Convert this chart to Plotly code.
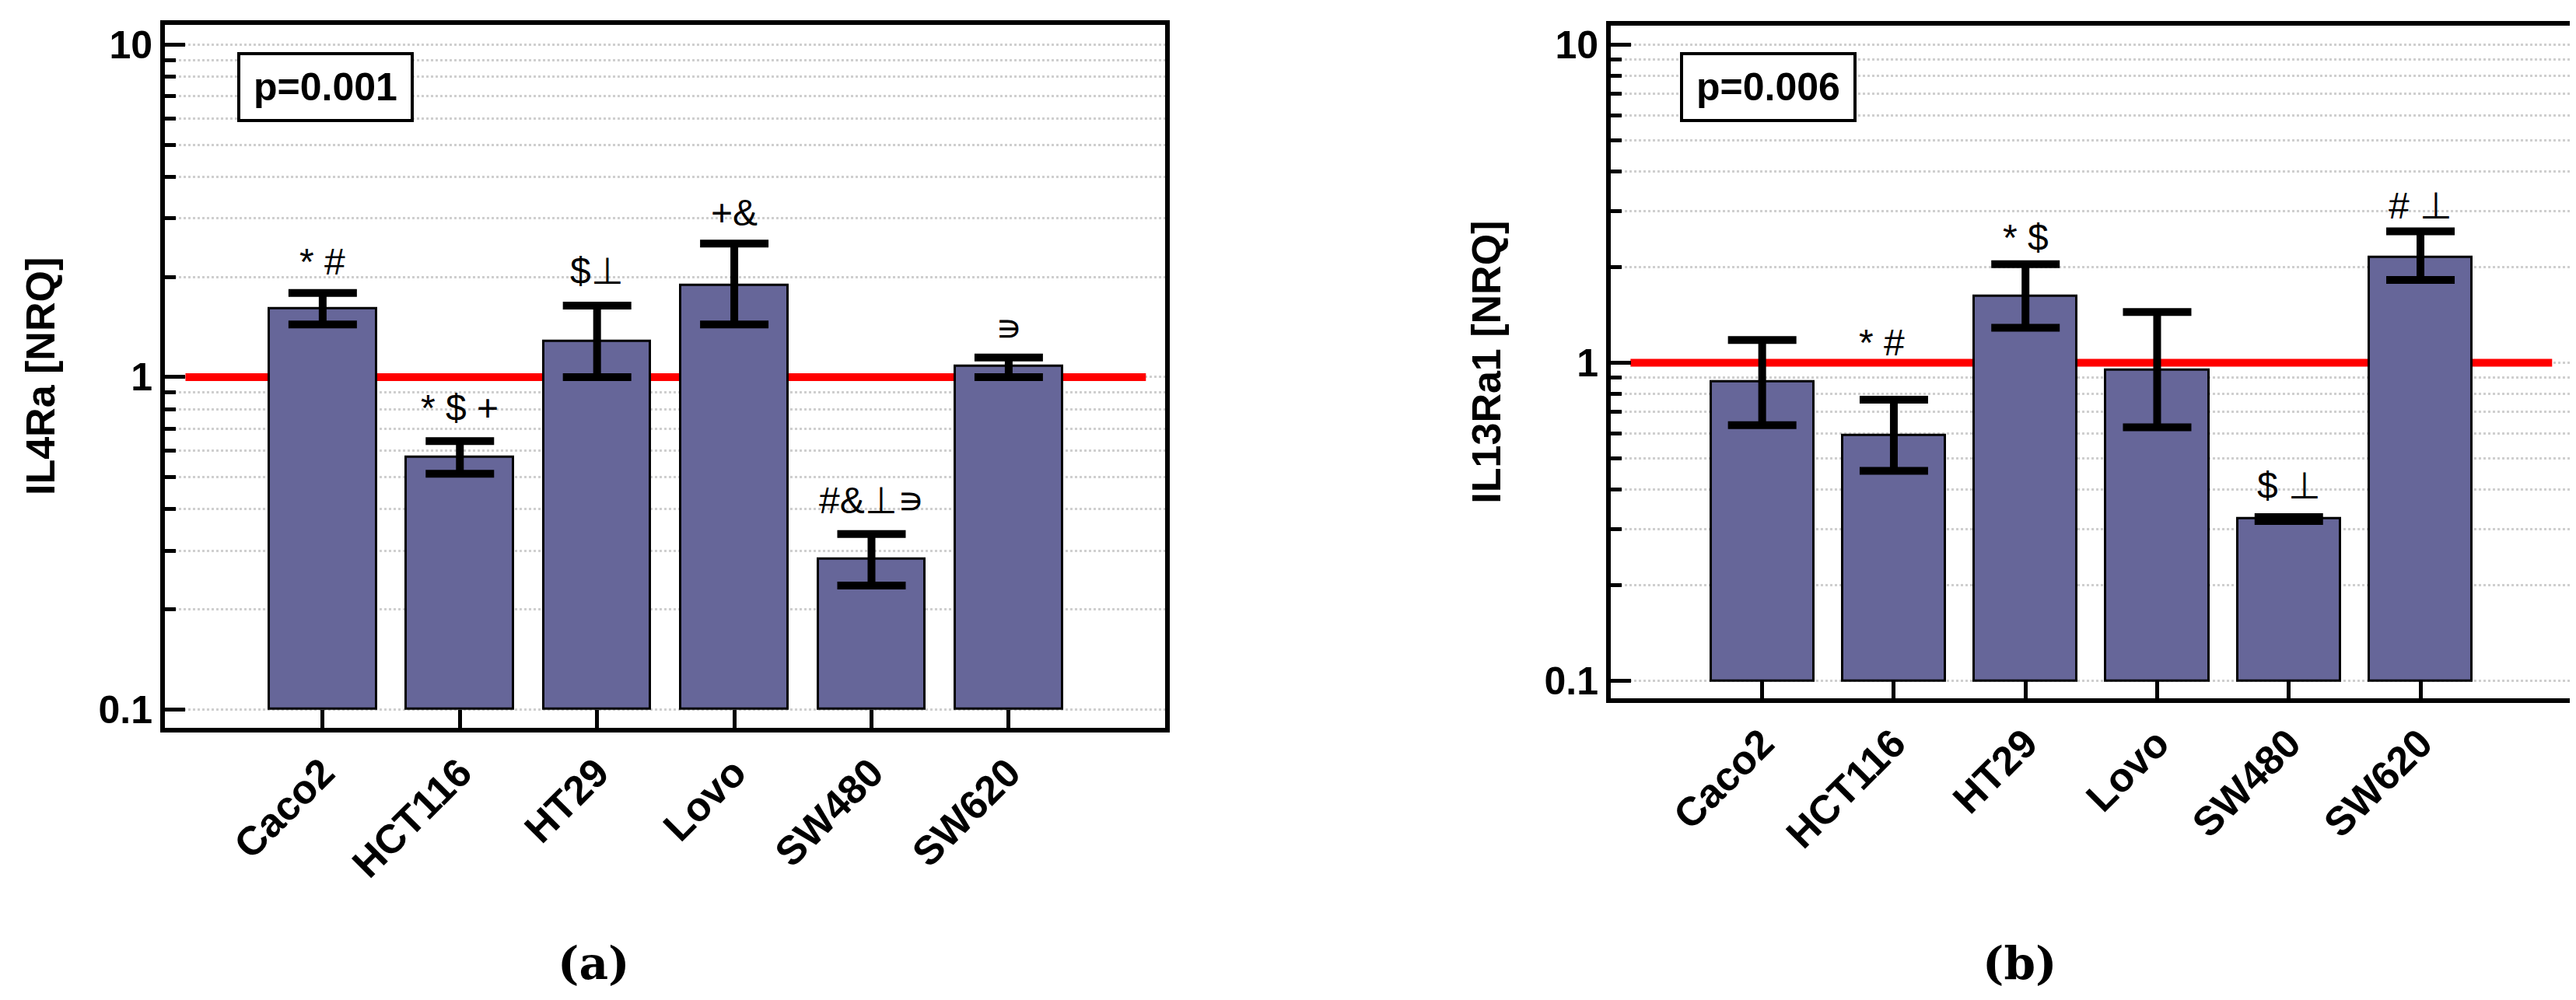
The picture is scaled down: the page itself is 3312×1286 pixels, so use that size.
import math
import plotly.graph_objects as go

# ---------------- data ----------------
categories = ["Caco2", "HCT116", "HT29", "Lovo", "SW480", "SW620"]

il4ra_mean = [1.61, 0.573, 1.28, 1.89, 0.284, 1.08]
il4ra_upper = [1.79, 0.642, 1.64, 2.52, 0.337, 1.145]
il4ra_lower = [1.44, 0.512, 1.00, 1.44, 0.236, 1.00]
il4ra_marks = ["* #", "* $ +", "$\u22a5", "+&", "#&\u22a5\u220d", "\u220d"]
il4ra_mark_y = [2.22, 0.81, 2.08, 3.12, 0.425, 1.41]
il4ra_p = "p=0.001"
il4ra_title = "IL4Ra [NRQ]"

il13_mean = [0.870, 0.592, 1.618, 0.948, 0.323, 2.143]
il13_upper = [1.178, 0.765, 2.04, 1.443, 0.327, 2.59]
il13_lower = [0.636, 0.457, 1.288, 0.627, 0.318, 1.82]
il13_marks = ["", "* #", "* $", "", "$ \u22a5", "# \u22a5"]
il13_mark_y = [None, 1.16, 2.47, None, 0.41, 3.12]
il13_p = "p=0.006"
il13_title = "IL13Ra1 [NRQ]"

reference_level = 1.0
bar_base = 0.1
y_tickvals = [0.1, 1, 10]
y_ticktext = ["0.1", "1", "10"]
y_minorvals = [0.2, 0.3, 0.4, 0.5, 0.6, 0.7, 0.8, 0.9, 2, 3, 4, 5, 6, 7, 8, 9]
panel_labels = ["(a)", "(b)"]

# ---------------- styles ----------------
W, H = 3312, 1286
SANS = "Liberation Sans, Arial, sans-serif"
BAR_COLOR = "#666699"
GRID = "#cfcfcf"

# frame boxes in pixels (left, right, top, bottom)
frames = [(204, 1490, 21, 931), (2063, 3297, 22, 893)]


def dom(fr):
    l, r, t, b = fr
    return [l / W, r / W], [1 - b / H, 1 - t / H]


fig = go.Figure()

panels = [
    (il4ra_mean, il4ra_upper, il4ra_lower, il4ra_marks, il4ra_mark_y, il4ra_p, il4ra_title, "x", "y"),
    (il13_mean, il13_upper, il13_lower, il13_marks, il13_mark_y, il13_p, il13_title, "x2", "y2"),
]

idx = list(range(len(categories)))
annotations = []
shapes = []

for k, (mean, up, lo, marks, marky, ptxt, title, xa, ya) in enumerate(panels):
    fig.add_trace(go.Bar(
        x=idx, y=[m - bar_base for m in mean], base=[bar_base] * len(mean),
        width=0.78, marker=dict(color=BAR_COLOR, line=dict(color="black", width=3)),
        xaxis=xa, yaxis=ya, showlegend=False, hoverinfo="skip"))
    fig.add_trace(go.Scatter(
        x=idx, y=mean, mode="markers",
        marker=dict(size=1, color="rgba(0,0,0,0)"),
        error_y=dict(type="data", symmetric=False,
                     array=[u - m for u, m in zip(up, mean)],
                     arrayminus=[m - l for m, l in zip(mean, lo)],
                     color="black", thickness=10, width=44),
        xaxis=xa, yaxis=ya, showlegend=False, hoverinfo="skip"))
    shapes.append(dict(type="line", xref=xa, yref=ya, x0=-1, x1=len(categories),
                       y0=reference_level, y1=reference_level,
                       line=dict(color="#ff0000", width=10), layer="between"))
    for i, (mtxt, my) in enumerate(zip(marks, marky)):
        if not mtxt or my is None:
            continue
        annotations.append(dict(
            x=i, y=math.log10(my), xref=xa, yref=ya, text=mtxt, showarrow=False,
            xanchor="center", yanchor="middle",
            xshift=(-15 if (k == 1 and i == 1) else 0),
            font=dict(family=SANS, size=48, color="black")))
    # p-value box
    annotations.append(dict(
        x=0.072, y=0.961, xref=xa + " domain", yref=ya + " domain",
        xanchor="left", yanchor="top", text="<b>" + ptxt + "</b>", showarrow=False,
        width=203, height=66, borderpad=8, bordercolor="black", borderwidth=4,
        bgcolor="white", font=dict(family=SANS, size=50, color="black")))
    # y title
    l, r, t, b = frames[k]
    annotations.append(dict(
        x=(l - 160) / W, y=1 - ((t + b) / 2) / H, xref="paper", yref="paper",
        text="<b>" + title + "</b>", textangle=-90, showarrow=False,
        xanchor="center", yanchor="middle",
        font=dict(family=SANS, size=52, color="black")))
    # panel label
    annotations.append(dict(
        x=((l + r) / 2 - 92) / W, y=1 - 1236 / H, xref="paper", yref="paper",
        text="<b>" + panel_labels[k] + "</b>", showarrow=False,
        xanchor="center", yanchor="middle",
        font=dict(family="DejaVu Serif, serif", size=58, color="black")))


def xcfg(fr, anchor):
    xd, _ = dom(fr)
    return dict(domain=xd, anchor=anchor, range=[-1.15, 6.14],
                tickmode="array", tickvals=idx, ticktext=categories,
                ticks="inside", ticklen=23, tickwidth=5, tickcolor="black",
                tickangle=-45, showline=True, linewidth=6, linecolor="black",
                mirror=True, showgrid=False, zeroline=False,
                tickfont=dict(family=SANS, size=52, color="black", weight="bold"))


def ycfg(fr, anchor):
    _, yd = dom(fr)
    return dict(domain=yd, anchor=anchor, type="log", range=[-1.056, 1.06],
                tickmode="array", tickvals=y_tickvals, ticktext=y_ticktext,
                ticks="inside", ticklen=26, tickwidth=5, tickcolor="black",
                showline=True, linewidth=6, linecolor="black", mirror=True,
                showgrid=True, gridcolor=GRID, griddash="dot", gridwidth=3,
                zeroline=False,
                minor=dict(tickmode="array", tickvals=y_minorvals, ticks="inside",
                           ticklen=14, tickwidth=5, tickcolor="black",
                           showgrid=True, gridcolor=GRID, griddash="dot", gridwidth=3),
                tickfont=dict(family=SANS, size=50, color="black", weight="bold"))


fig.update_layout(
    width=W, height=H, margin=dict(l=0, r=0, t=0, b=0),
    paper_bgcolor="white", plot_bgcolor="white",
    xaxis=xcfg(frames[0], "y"), yaxis=ycfg(frames[0], "x"),
    xaxis2=xcfg(frames[1], "y2"), yaxis2=ycfg(frames[1], "x2"),
    annotations=annotations, shapes=shapes, showlegend=False, bargap=0)

fig.write_html("out.html")
